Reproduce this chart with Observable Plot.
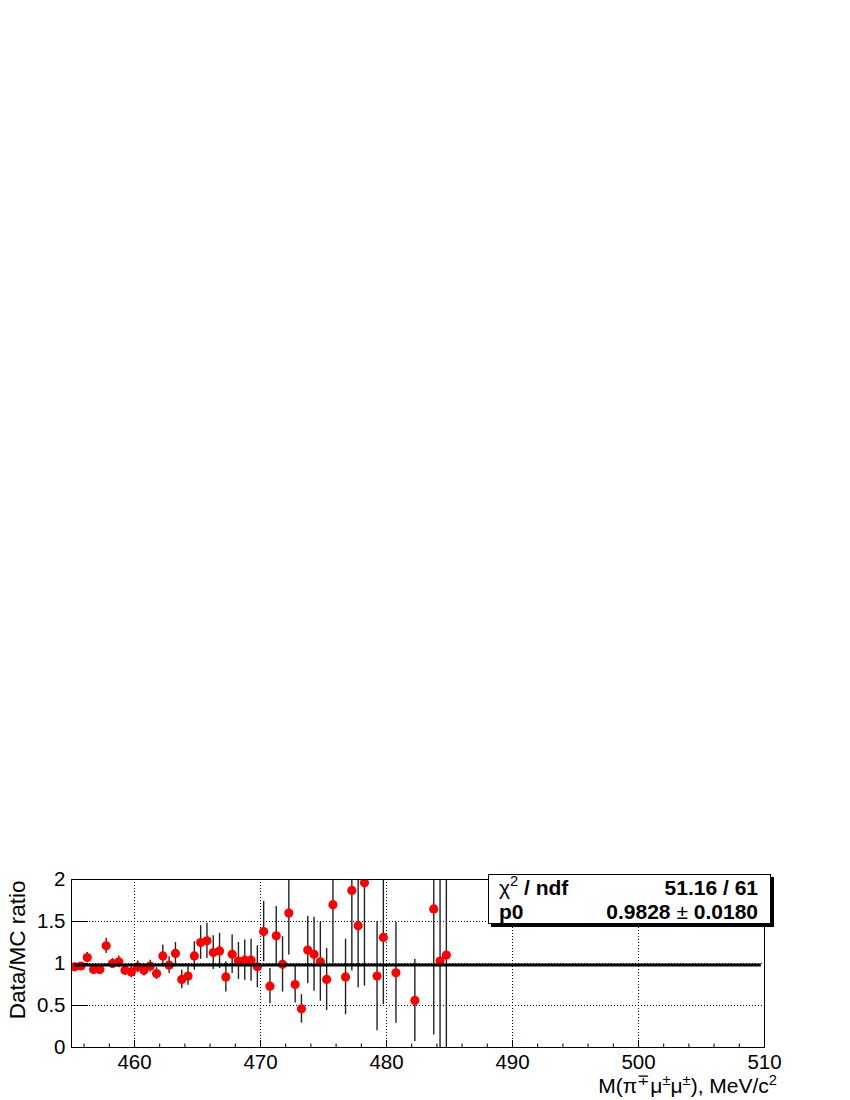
<!DOCTYPE html>
<html>
<head>
<meta charset="utf-8">
<script src="https://cdn.jsdelivr.net/npm/d3@7"></script>
<script src="https://cdn.jsdelivr.net/npm/@observablehq/plot@0.6"></script>
<style>
  html, body { margin: 0; padding: 0; background: #fff; }
  #wrap { position: relative; width: 850px; height: 1100px; font-family: "Liberation Sans", Arial, Helvetica, sans-serif; }
  #wrap svg { position: absolute; left: 0; top: 0; }
  .xtitle { position: absolute; right: 73px; top: 1075px; font-size: 21px; line-height: 1; white-space: nowrap; color: #000; }
  .sup { position: relative; top: -0.55em; font-size: 0.7em; }
  .stats { position: absolute; left: 488px; top: 874px; width: 281px; height: 48px; border: 1px solid #000; background: #fff; box-shadow: 3px 3px 0 #000; font-size: 21px; line-height: 1; color: #000; }
  .stats span.row { position: absolute; white-space: nowrap; font-weight: bold; }
  .stats .l { left: 10px; }
  .stats .r { right: 12px; }
  .stats .r1 { top: 1.5px; }
  .stats .r2 { top: 26px; }
  .nb { font-weight: normal; }
</style>
</head>
<body>
<div id="wrap"></div>
<script>
// Bin centres (MeV/c^2)
const binCenter = [
  455.25, 455.75, 456.25, 456.75, 457.25, 457.75, 458.25, 458.75, 459.25, 459.75,
  460.25, 460.75, 461.25, 461.75, 462.25, 462.75, 463.25, 463.75, 464.25, 464.75,
  465.25, 465.75, 466.25, 466.75, 467.25, 467.75, 468.25, 468.75, 469.25, 469.75,
  470.25, 470.75, 471.25, 471.75, 472.25, 472.75, 473.25, 473.75, 474.25, 474.75,
  475.25, 475.75, 476.75, 477.25, 477.75, 478.25, 479.25, 479.75, 480.75, 482.25,
  483.75, 484.25, 484.75
];
// Data/MC ratio
const ratio = [
  0.96, 0.97, 1.07, 0.93, 0.93, 1.21, 1.00, 1.02, 0.92, 0.90,
  0.96, 0.92, 0.97, 0.88, 1.09, 0.98, 1.12, 0.81, 0.85, 1.09,
  1.25, 1.27, 1.13, 1.15, 0.84, 1.11, 1.03, 1.04, 1.04, 0.96,
  1.38, 0.73, 1.33, 0.99, 1.60, 0.75, 0.46, 1.16, 1.11, 1.02,
  0.81, 1.70, 0.84, 1.87, 1.45, 1.96, 0.85, 1.31, 0.89, 0.56,
  1.65, 1.03, 1.10
];
// Ratio uncertainty
const ratioErr = [
  0.03, 0.03, 0.06, 0.05, 0.05, 0.09, 0.06, 0.07, 0.06, 0.07,
  0.07, 0.07, 0.07, 0.07, 0.13, 0.10, 0.13, 0.11, 0.11, 0.17,
  0.20, 0.21, 0.20, 0.21, 0.18, 0.23, 0.22, 0.24, 0.25, 0.25,
  0.36, 0.21, 0.35, 0.33, 0.50, 0.22, 0.17, 0.40, 0.44, 0.47,
  0.37, 0.70, 0.45, 0.96, 0.74, 1.23, 0.65, 0.80, 0.60, 0.49,
  1.50, 2.00, 2.00
];
// Fit result (pol0)
const fitP0 = 0.9828;
const fitRange = [455.25, 509.75];
// Axis ticks
const xMajorTicks = [460, 470, 480, 490, 500, 510];
const xMinorTicks = [456, 458, 462, 464, 466, 468, 472, 474, 476, 478, 482, 484, 486, 488, 492, 494, 496, 498, 502, 504, 506, 508];
const xGrid = [460, 470, 480, 490, 500];
const yTicks = [0, 0.5, 1, 1.5, 2];
const yGrid = [0.5, 1, 1.5];

const points = binCenter.map((x, i) => ({x, y: ratio[i], lo: ratio[i] - ratioErr[i], hi: ratio[i] + ratioErr[i]}));

const W = 850, H = 1100, mL = 71, mR = 86, mT = 879, mB = 53;
const frameW = W - mL - mR, frameH = H - mT - mB;

const chart = Plot.plot({
  width: W,
  height: H,
  marginLeft: mL,
  marginRight: mR,
  marginTop: mT,
  marginBottom: mB,
  style: {fontFamily: "'Liberation Sans', Arial, Helvetica, sans-serif", color: "#000", background: "transparent"},
  x: {domain: [455, 510], axis: null},
  y: {domain: [0, 2], axis: null},
  marks: [
    Plot.gridX(xGrid, {stroke: "#000", strokeOpacity: 1, strokeDasharray: "1,2", strokeWidth: 1}),
    Plot.gridY(yGrid, {stroke: "#000", strokeOpacity: 1, strokeDasharray: "1,2", strokeWidth: 1}),
    Plot.tickX(xMajorTicks, {x: d => d, stroke: "#000", insetTop: frameH - 7}),
    Plot.tickX(xMinorTicks, {x: d => d, stroke: "#000", insetTop: frameH - 3.5}),
    Plot.tickY(yTicks, {y: d => d, stroke: "#000", insetRight: frameW - 17}),
    Plot.axisX(xMajorTicks, {tickSize: 0, tickPadding: 7, fontSize: 20.5, label: null}),
    Plot.axisY(yTicks, {tickSize: 0, tickPadding: 6, fontSize: 20.5, label: null, tickFormat: d => String(d)}),
    Plot.ruleX(points, {x: "x", y1: "lo", y2: "hi", stroke: "#222", strokeWidth: 1.4, clip: true}),
    Plot.dot(points, {x: "x", y: "y", r: 4.6, fill: "#ff0000", stroke: "none", clip: true}),
    Plot.ruleY([fitP0], {x1: fitRange[0], x2: fitRange[1], stroke: "#000", strokeWidth: 3}),
    Plot.frame({stroke: "#000", strokeWidth: 1}),
    Plot.text(["Data/MC ratio"], {frameAnchor: "top-left", rotate: -90, textAnchor: "end", lineAnchor: "bottom", dx: -47, dy: 1, fontSize: 22.5, fill: "#000"})
  ]
});

const wrap = document.getElementById("wrap");
wrap.appendChild(chart);

const xt = document.createElement("div");
xt.className = "xtitle";
xt.innerHTML = 'M(&pi;<span class="sup">&#8723;</span>&mu;<span class="sup">&plusmn;</span>&mu;<span class="sup">&plusmn;</span>), MeV/c<span class="sup">2</span>';
wrap.appendChild(xt);

const st = document.createElement("div");
st.className = "stats";
st.innerHTML =
  '<span class="row l r1"><span class="nb">&chi;</span><span class="sup nb">2</span> / ndf</span>' +
  '<span class="row r r1">51.16 / 61</span>' +
  '<span class="row l r2">p0</span>' +
  '<span class="row r r2">0.9828 <span class="nb">&plusmn;</span> 0.0180</span>';
wrap.appendChild(st);
</script>
</body>
</html>
